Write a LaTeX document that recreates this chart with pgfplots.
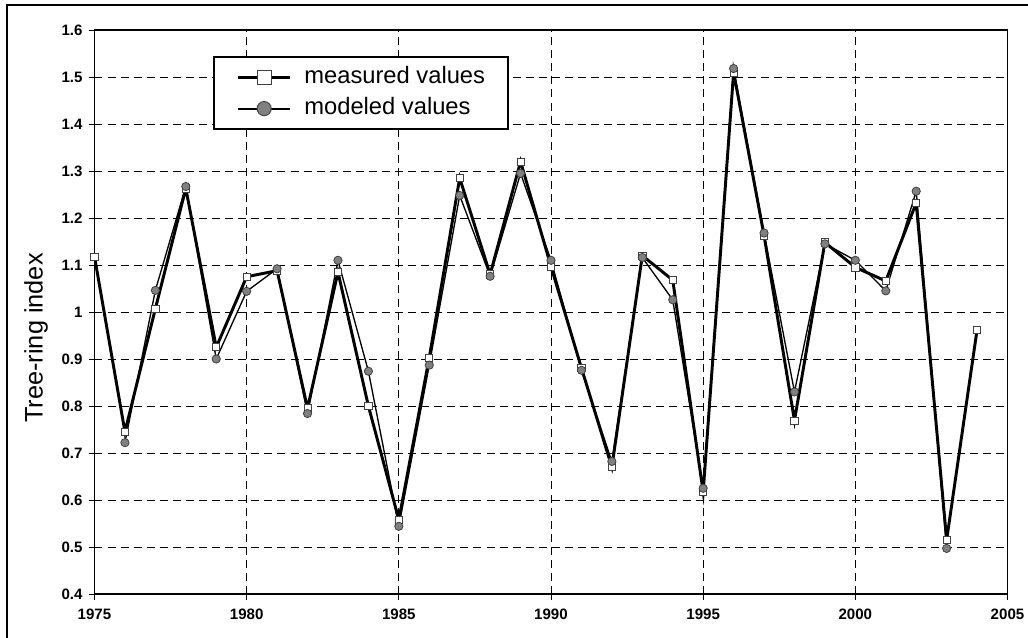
\documentclass[border=0pt]{standalone}
\usepackage{fontspec}
\setmainfont{Liberation Sans}
\usepackage{pgfplots}
\pgfplotsset{compat=1.18}
\definecolor{markgray}{HTML}{808080}
\definecolor{edgegray}{HTML}{404040}
\begin{document}
\begin{tikzpicture}
\begin{axis}[
  scale only axis,
  width=684.75pt, height=423pt,
  xmin=1975, xmax=2005, ymin=0.4, ymax=1.6,
  xtick={1975,1980,...,2005},
  ytick={0.4,0.5,...,1.61},
  /pgf/number format/.cd, 1000 sep={}, assume math mode=true,
  /pgfplots/.cd,
  yticklabel={\pgfmathprintnumber[fixed,precision=1]{\tick}},
  tick align=outside,
  xtick pos=left, ytick pos=left,
  major tick length=4.5pt,
  tick style={black, line width=0.75pt},
  ticklabel style={font=\bfseries\fontsize{11.3}{13}\selectfont},
  xticklabel style={yshift=-3pt},
  yticklabel style={xshift=-1pt},
  grid=major,
  major grid style={black, line width=0.6pt, dash pattern=on 6pt off 3.8pt},
  axis line style={black, line width=0.9pt},
  ylabel={Tree-ring index},
  ylabel style={at={(axis description cs:-0.064,0.454)}, anchor=center, font=\fontsize{19}{22}\selectfont},
  legend style={at={(axis cs:1978.89,1.545)}, anchor=north west,
    draw=black, line width=1.6pt, fill=white,
    font=\fontsize{17.8}{20}\selectfont,
    inner xsep=17pt, inner ysep=7pt, row sep=6.25pt, column sep=9.5pt,
    nodes={inner sep=0pt, text height=13pt, text depth=4pt},
    legend cell align=left},
]
\addplot[black, line width=2.2pt, mark=square*, mark size=2.7pt,
  mark options={fill=white, draw=edgegray, line width=0.6pt, solid},
  legend image code/.code={
    \draw[black, line width=2.3pt] (0pt,0pt) -- (39pt,0pt);
    \draw[fill=white, draw=edgegray, line width=0.7pt] (14.3pt,-5.2pt) rectangle (24.7pt,5.2pt);
  }]
coordinates {
(1975,1.118) (1976,0.745) (1977,1.007) (1978,1.263) (1979,0.925)
(1980,1.075) (1981,1.088) (1982,0.795) (1983,1.085) (1984,0.800)
(1985,0.558) (1986,0.903) (1987,1.285) (1988,1.080) (1989,1.320)
(1990,1.097) (1991,0.881) (1992,0.670) (1993,1.120) (1994,1.068)
(1995,0.617) (1996,1.510) (1997,1.163) (1998,0.769) (1999,1.148)
(2000,1.095) (2001,1.066) (2002,1.232) (2003,0.515) (2004,0.962)
};
\addlegendentry{measured values}
\addplot[black, line width=1.0pt, mark=*, mark size=3.1pt,
  mark options={fill=markgray, draw=edgegray, line width=0.6pt, solid},
  legend image code/.code={
    \draw[black, line width=1.5pt] (0pt,0pt) -- (39pt,0pt);
    \draw[fill=markgray, draw=edgegray, line width=0.7pt] (19.5pt,0pt) circle[radius=5.3pt];
  }]
coordinates {
(1976,0.722) (1977,1.046) (1978,1.267) (1979,0.900)
(1980,1.044) (1981,1.092) (1982,0.784) (1983,1.110) (1984,0.874)
(1985,0.544) (1986,0.887) (1987,1.248) (1988,1.076) (1989,1.295)
(1990,1.110) (1991,0.876) (1992,0.682) (1993,1.116) (1994,1.026)
(1995,0.625) (1996,1.518) (1997,1.168) (1998,0.830) (1999,1.145)
(2000,1.110) (2001,1.045) (2002,1.257) (2003,0.497)
};
\addlegendentry{modeled values}
\end{axis}
\draw[black, line width=0.9pt] (-65.6pt,-60pt) -- (-65.6pt,441.75pt) -- (720pt,441.75pt);
\pgfresetboundingbox
\path[use as bounding box] (-70.875pt,-32.25pt) rectangle (700.125pt,445.5pt);
\end{tikzpicture}
\end{document}
